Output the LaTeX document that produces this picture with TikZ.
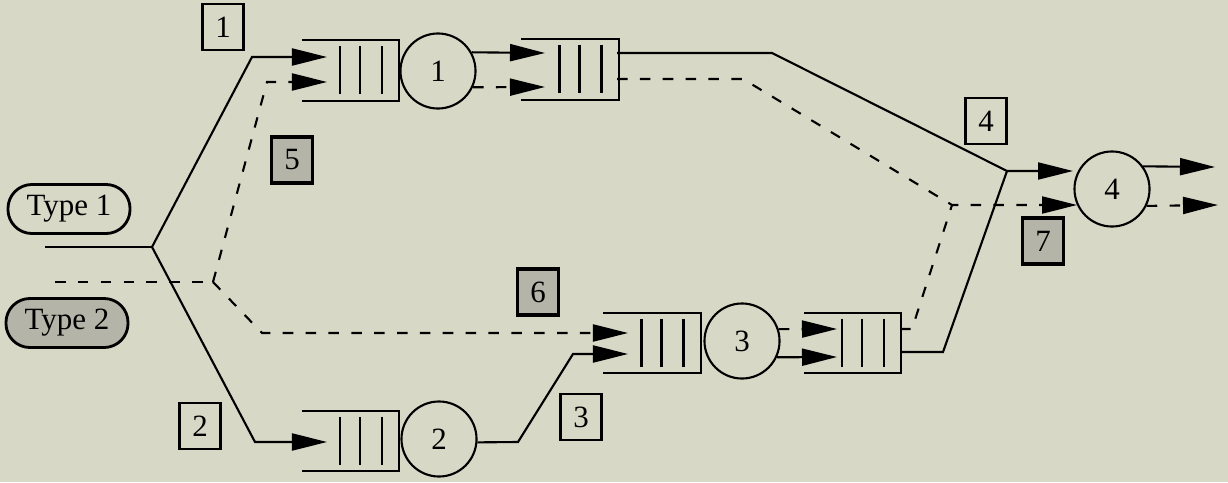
\documentclass[tikz,border=0pt]{standalone}
\usepackage{fontspec}
\setmainfont{Liberation Serif}
\usetikzlibrary{arrows.meta}
\definecolor{paper}{RGB}{216,216,198}
\definecolor{shade}{RGB}{180,180,168}
\newcommand{\qbox}[2]{%
  \node[qnode] (#1) at (#2) {};
  \draw (#1.north west) -- (#1.north east) -- (#1.south east) -- (#1.south west);
  \foreach \dx in {-10.5,9.5,31.5}
    \draw ([xshift=\dx*0.1mm,yshift=-0.06cm]#1.north) -- ([xshift=\dx*0.1mm,yshift=0.065cm]#1.south);
}

\begin{document}
\begin{tikzpicture}[x=0.01cm,y=-0.01cm, line width=0.6pt,
    font=\fontsize{8.8}{10}\selectfont,
    snode/.style={draw,circle,minimum size=0.75cm,inner sep=0pt},
    qnode/.style={minimum width=0.95cm,minimum height=0.58cm,inner sep=0pt},
    tnode/.style={draw,line width=0.8pt,rounded corners=0.24cm,minimum width=1.22cm,minimum height=0.49cm,inner sep=0pt},
    lbox/.style={draw,minimum width=0.41cm,minimum height=0.46cm,inner sep=0pt},
    gbox/.style={lbox,fill=shade,line width=0.9pt},
    flow2/.style={dash pattern=on 3pt off 3.5pt},
    arr/.style={-{Triangle[length=0.35cm,width=0.17cm]}}]
    \path[use as bounding box,fill=paper] (0,0) rectangle (1228,482);

    \node[tnode] (t1) at (69,209) {Type 1};
    \node[tnode,fill=shade] (t2) at (67,323) {Type 2};

    \qbox{q1}{350.5,70.5}
    \qbox{q1b}{570,69.5}
    \qbox{q2}{350.5,441}
    \qbox{q3}{652,343}
    \qbox{q3b}{852.5,343}

    \node[snode] (s1) at (438,71) {1};
    \node[snode] (s2) at (439,439) {2};
    \node[snode] (s3) at (742,341) {3};
    \node[snode] (s4) at (1112,189) {4};

    \node[lbox] (b1) at (223,27) {1};
    \node[lbox] (b2) at (200,426) {2};
    \node[lbox] (b3) at (581,417) {3};
    \node[lbox] (b4) at (986,121) {4};
    \node[gbox] (b5) at (292,160) {5};
    \node[gbox] (b6) at (538,292) {6};
    \node[gbox] (b7) at (1043,241) {7};

    % bends and ports
    \coordinate (in1) at (45,247);
    \coordinate (j1) at (152,247);
    \coordinate (in2) at (55,282);
    \coordinate (j2) at (213,282);
    \coordinate (k1) at (252,57);
    \coordinate (k2) at (255,442);
    \coordinate (k5) at (267,82);
    \coordinate (k6) at (262,333);
    \coordinate (k4) at (518,442);
    \coordinate (k3) at (573,354);
    \coordinate (p1) at (327,57);
    \coordinate (p5) at (327,82);
    \coordinate (p2) at (327,442);
    \coordinate (p1b) at (545,53);
    \coordinate (p5b) at (545,87);
    \coordinate (p6) at (628,333);
    \coordinate (p3) at (628,354);
    \coordinate (p7) at (837,329);
    \coordinate (p3b) at (837,357);
    \coordinate (r1) at (617,53);
    \coordinate (r5) at (617,79);
    \coordinate (m1) at (772,53);
    \coordinate (m5) at (743,79);
    \coordinate (r3) at (900,352);
    \coordinate (r7) at (900,329);
    \coordinate (n3) at (943,352);
    \coordinate (n7) at (912,329);
    \coordinate (j4) at (1007,171);
    \coordinate (j7) at (952,205);
    \coordinate (p4) at (1073,171);
    \coordinate (p8) at (1077,205);
    \coordinate (o1) at (1215,167);
    \coordinate (o2) at (1218,205);

    \draw (in1) -- (j1);
    \draw[arr] (j1) -- (k1) -- (p1);
    \draw[arr] (j1) -- (k2) -- (p2);
    \draw[arr] (s1.29) -- (p1b);
    \draw[arr] (s2.-5) -- (k4) -- (k3) -- (p3);
    \draw[arr] (s3.-25) -- (p3b);
    \draw[arr] (r1) -- (m1) -- (j4) -- (p4);
    \draw (r3) -- (n3) -- (j4);
    \draw[arr] (s4.36) -- (o1);

   \begin{scope}[flow2]
    \draw (in2) -- (j2);
    \draw[arr] (j2) -- (k5) -- (p5);
    \draw[arr] (j2) -- (k6) -- (p6);
    \draw[arr] (s1.-25) -- (p5b);
    \draw[arr] (s3.18) -- (p7);
    \draw[arr] (r5) -- (m5) -- (j7) -- (p8);
    \draw (r7) -- (n7) -- (j7);
    \draw[arr] (s4.-26) -- (o2);
   \end{scope}
\end{tikzpicture}
\end{document}
